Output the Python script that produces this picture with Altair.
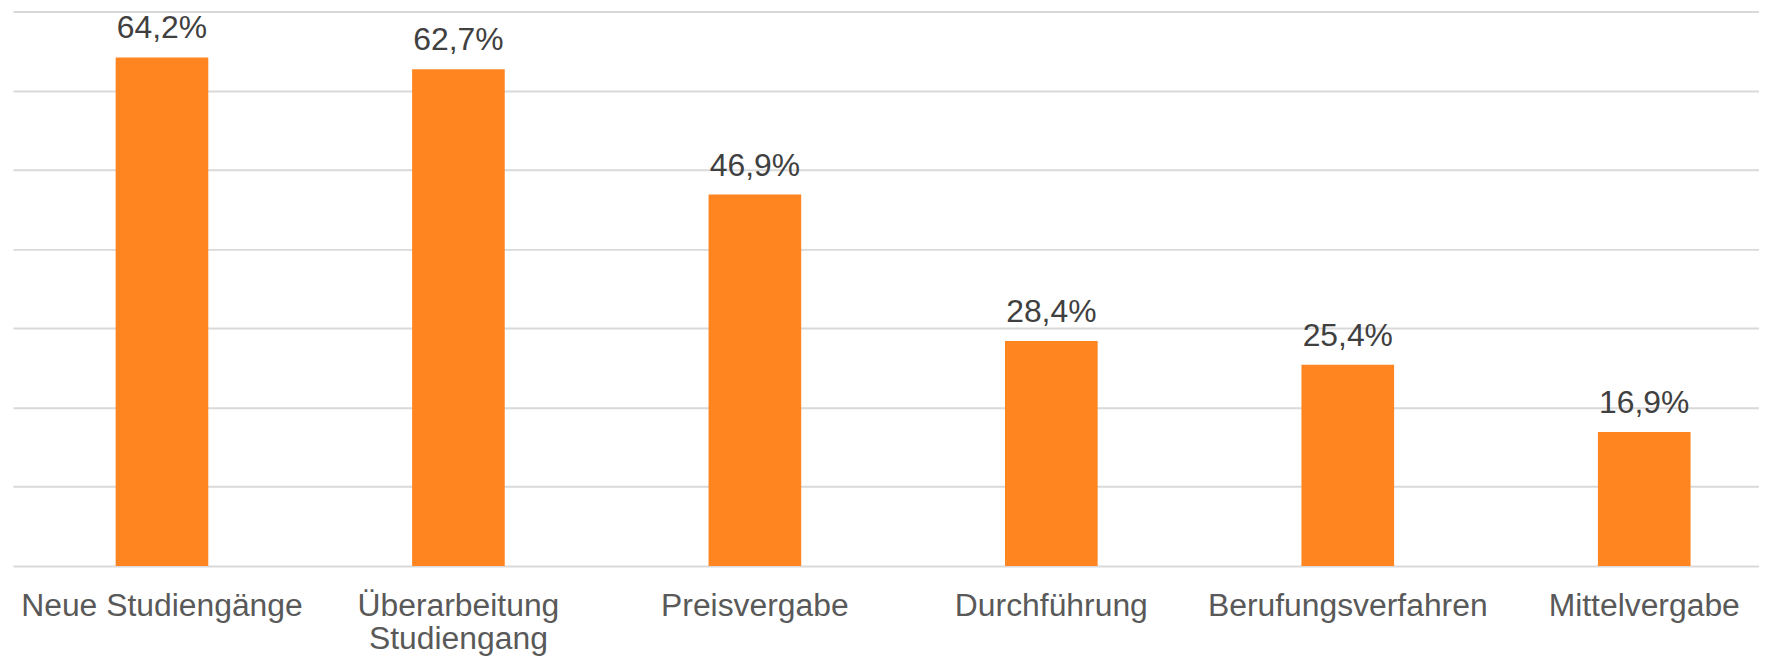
import altair as alt
import pandas as pd

categories = ["Neue Studiengänge", "Überarbeitung\nStudiengang", "Preisvergabe",
              "Durchführung", "Berufungsverfahren", "Mittelvergabe"]
values = [64.2, 62.7, 46.9, 28.4, 25.4, 16.9]
labels = ["64,2%", "62,7%", "46,9%", "28,4%", "25,4%", "16,9%"]
grid_ticks = [0, 10, 20, 30, 40, 50, 60, 70]

df = pd.DataFrame({"cat": categories, "val": values, "lab": labels})

FONT = "Liberation Sans"

x = alt.X("cat:N", sort=categories, title=None,
          scale=alt.Scale(paddingInner=0.6875, paddingOuter=0.2886, align=0.6),
          axis=alt.Axis(labelAngle=0, labelFont=FONT, labelFontSize=32,
                        labelColor="#595959", labelPadding=25, ticks=False, tickSize=0,
                        domain=False, labelLineHeight=33, labelLimit=400,
                        labelExpr="split(datum.value, '\\n')"))
y = alt.Y("val:Q", title=None,
          scale=alt.Scale(domain=[0, 70], nice=False),
          axis=alt.Axis(values=grid_ticks, labels=False, ticks=False, domain=False,
                        grid=True, gridColor="#d9d9d9", gridWidth=2))

bars = alt.Chart(df).mark_bar(color="#FF8521").encode(x=x, y=y)

text = alt.Chart(df).mark_text(font=FONT, fontSize=32, color="#404040",
                               baseline="alphabetic", dy=-19).encode(
    x=alt.X("cat:N", sort=categories), y="val:Q", text="lab:N")

chart = (bars + text).properties(
    width=1754, height=557,
    padding={"left": 5, "top": 2, "right": 0, "bottom": 90},
    autosize=alt.AutoSizeParams(type="none"),
).configure_view(stroke=None)

chart.save("out.html", embed_options={"renderer": "svg", "actions": False})
